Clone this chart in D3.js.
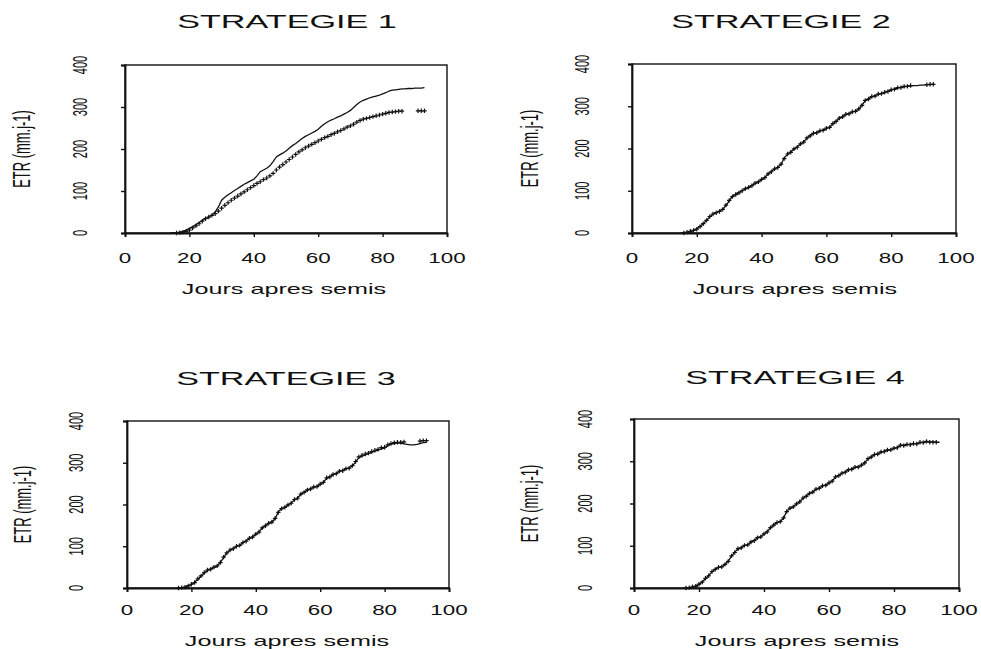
<!DOCTYPE html>
<html><head><meta charset="utf-8">
<script src="https://cdn.jsdelivr.net/npm/d3@7/dist/d3.min.js"></script>
<style>html,body{margin:0;padding:0;background:#fff;}svg{display:block;}</style>
</head><body>
<script>
// ---------- DATA ----------
const titles = ["STRATEGIE 1", "STRATEGIE 2", "STRATEGIE 3", "STRATEGIE 4"];
const xTicks = [0, 20, 40, 60, 80, 100];
const yTicks = [0, 100, 200, 300, 400];
const xTitle = "Jours apres semis";
const yTitle = "ETR (mm.j-1)";
const days = [14,15,16,17,18,19,20,21,22,23,24,25,26,27,28,29,30,31,32,33,34,35,36,37,38,39,40,41,42,43,44,45,46,47,48,49,50,51,52,53,54,55,56,57,58,59,60,61,62,63,64,65,66,67,68,69,70,71,72,73,74,75,76,77,78,79,80,81,82,83,84,85,86,87,88,89,90,91,92,93,94];

// simulated (line) series
const sim1 = [0,0,1,2,4,7,11,15,20,25,30,34,38,43,50,62,78,85,91,96,101,106,111,116,120,124,128,136,146,150,154,160,170,181,186,190,195,202,208,213,219,225,230,234,238,242,247,254,260,265,269,272,276,279,283,287,292,299,306,312,316,319,322,324,326,328,331,334,338,340,341,342,343,343,344,344,345,345,345,346,null];
const sim2 = [null,0,0,1,3,6,10,16,22,30,38,45,48,52,56,65,76,87,92,96,100,104,108,113,117,121,126,132,139,146,151,156,162,178,186,192,198,204,210,216,224,231,235,238,241,244,247,251,258,265,271,276,280,283,286,289,293,303,313,318,322,325,328,330,332,335,338,341,343,345,346,347,348,349,349,350,350,351,351,352,null];
const sim3 = [null,null,0,0,2,5,8,14,21,28,36,42,46,49,52,62,72,85,90,95,99,103,108,113,118,123,128,135,143,150,154,159,165,183,189,194,198,204,210,216,224,230,234,238,241,244,248,254,262,267,271,275,279,282,285,288,292,302,312,316,319,322,325,328,330,333,335,341,345,346,347,347,345,344,343,343,344,346,348,349,null];
const sim4 = [null,null,0,0,2,5,8,15,22,30,38,45,48,51,55,64,75,85,92,96,100,103,108,113,118,122,127,134,142,150,154,158,165,182,188,193,198,205,212,218,223,228,233,237,241,244,248,254,262,267,271,275,279,282,285,287,290,297,305,311,315,318,321,324,326,328,330,333,337,338,339,340,341,342,344,345,346,346,346,345,345];

// observed (+) series
const obs1 = [null,null,0,1,2,4,7,12,17,22,28,34,38,42,46,52,59,66,72,78,83,88,93,98,103,108,113,118,122,127,131,136,142,150,157,163,169,175,181,187,193,198,203,207,211,215,219,223,227,230,234,237,241,244,248,252,255,259,264,268,271,273,275,277,279,281,283,285,287,288,289,290,290,null,null,null,null,291,291,291,null];
const obs2 = [null,null,0,2,4,6,9,15,22,30,39,45,48,51,56,66,77,86,91,95,100,105,108,112,118,121,127,131,140,145,152,155,163,176,187,191,199,203,211,215,225,230,236,237,242,243,248,250,259,264,272,275,281,282,287,288,294,302,314,317,323,324,329,330,333,335,339,340,344,344,347,347,349,null,null,null,null,351,352,352,null];
const obs3 = [null,null,0,1,2,5,9,13,22,29,37,43,45,50,53,61,74,84,91,94,100,102,109,112,119,122,129,134,144,149,155,158,167,181,190,193,199,203,212,215,225,229,235,237,242,243,249,253,264,266,272,274,280,281,286,287,293,303,314,318,321,323,327,330,332,336,337,343,346,348,349,349,350,null,null,null,null,352,353,353,null];
const obs4 = [null,null,0,1,3,4,9,14,23,29,39,44,49,50,56,63,76,84,93,95,101,102,109,112,119,121,128,133,143,149,155,157,166,181,189,192,199,204,213,217,224,227,234,236,242,243,249,253,263,266,272,274,280,281,286,286,291,296,306,310,316,317,322,323,327,327,331,332,338,337,340,339,342,341,345,344,347,345,345,345,null];

const simSeries = [sim1, sim2, sim3, sim4];
const obsSeries = [obs1, obs2, obs3, obs4];

// ---------- LAYOUT ----------
const panels = [
  {l:125, r:447, t:65,  b:233, titleX:287, titleY:28,  yLabX:87,  yTitX:30,  xLabY:263, xTitX:284, xTitY:294},
  {l:632, r:956, t:64,  b:233, titleX:781, titleY:28,  yLabX:589, yTitX:538, xLabY:263, xTitX:795, xTitY:294},
  {l:127, r:449, t:421, b:588, titleX:286, titleY:385, yLabX:83,  yTitX:31,  xLabY:615, xTitX:287, xTitY:646},
  {l:634, r:959, t:419, b:588, titleX:795, titleY:384, yLabX:592, yTitX:538, xLabY:615, xTitX:797, xTitY:646}
];

const W = 981, H = 649;
const svg = d3.select("body").append("svg").attr("width", W).attr("height", H)
  .style("font-family", "Arial, 'Liberation Sans', sans-serif");

panels.forEach((p, i) => {
  const x = d3.scaleLinear().domain([0, 100]).range([p.l, p.r]);
  const y = d3.scaleLinear().domain([0, 400]).range([p.b, p.t]);
  const g = svg.append("g");

  // frame
  g.append("rect").attr("x", p.l).attr("y", p.t).attr("width", p.r - p.l).attr("height", p.b - p.t)
    .attr("fill", "none").attr("stroke", "#111").attr("stroke-width", 1.4);

  // axes
  const xAxis = d3.axisBottom(x).tickValues(xTicks).tickSize(4).tickFormat("");
  g.append("g").attr("transform", `translate(0,${p.b})`).call(xAxis)
    .call(a => a.select(".domain").attr("stroke", "#111").attr("stroke-width", 1.8))
    .call(a => a.selectAll(".tick line").attr("stroke", "#111").attr("stroke-width", 1.4));
  const yAxis = d3.axisLeft(y).tickValues(yTicks).tickSize(4).tickFormat("");
  g.append("g").attr("transform", `translate(${p.l},0)`).call(yAxis)
    .call(a => a.select(".domain").attr("stroke", "#111").attr("stroke-width", 1.8))
    .call(a => a.selectAll(".tick line").attr("stroke", "#111").attr("stroke-width", 1.4));

  // x tick labels (wide)
  g.selectAll(".xl").data(xTicks).enter().append("text")
    .attr("transform", d => `translate(${x(d)},${p.xLabY}) scale(1.6,1)`)
    .attr("text-anchor", "middle").attr("font-size", 14).attr("fill", "#111")
    .text(d => d);

  // y tick labels (rotated, condensed)
  g.selectAll(".yl").data(yTicks).enter().append("text")
    .attr("transform", d => `translate(${p.yLabX},${y(d)}) rotate(-90) scale(0.55,1)`)
    .attr("text-anchor", "middle").attr("font-size", 20).attr("fill", "#111")
    .text(d => d);

  // titles
  g.append("text").attr("transform", `translate(${p.titleX},${p.titleY}) scale(1.9,1)`)
    .attr("text-anchor", "middle").attr("font-size", 18).attr("fill", "#111").text(titles[i]);
  g.append("text").attr("transform", `translate(${p.xTitX},${p.xTitY}) scale(1.68,1)`)
    .attr("text-anchor", "middle").attr("font-size", 15).attr("fill", "#111").text(xTitle);
  g.append("text").attr("transform", `translate(${p.yTitX},${(p.t + p.b) / 2}) rotate(-90) scale(0.54,1)`)
    .attr("text-anchor", "middle").attr("font-size", 24).attr("fill", "#111").text(yTitle);

  // simulated line
  const simData = days.map((d, k) => ({d, v: simSeries[i][k]}));
  const line = d3.line().defined(e => e.v !== null).x(e => x(e.d)).y(e => y(e.v));
  g.append("path").datum(simData).attr("d", line)
    .attr("fill", "none").attr("stroke", "#111").attr("stroke-width", 1.3);

  // observed markers
  const obsData = days.map((d, k) => ({d, v: obsSeries[i][k]})).filter(e => e.v !== null);
  g.selectAll(".m").data(obsData).enter().append("path")
    .attr("transform", e => `translate(${x(e.d)},${y(e.v)})`)
    .attr("d", "M-2.2,0H2.2M0,-2.2V2.2")
    .attr("stroke", "#111").attr("stroke-width", 1.2).attr("fill", "none");
});
</script>
</body></html>
